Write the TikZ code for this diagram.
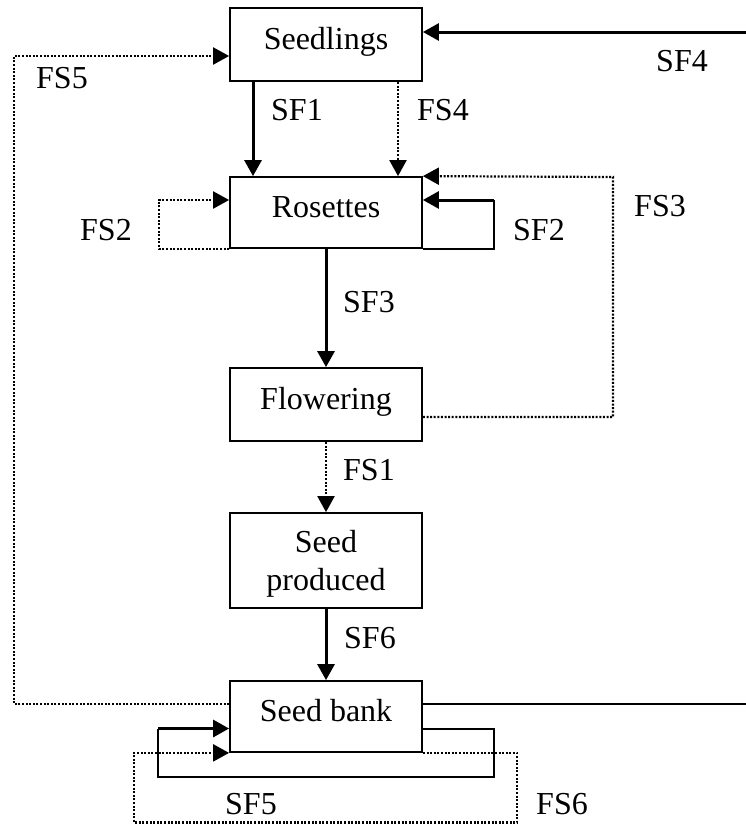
\documentclass[tikz,border=0pt]{standalone}
\usepackage{fontspec}
\setmainfont{Liberation Serif}
\usetikzlibrary{arrows.meta}
\begin{document}
\begin{tikzpicture}[x=1pt,y=-1pt,
 box/.style={draw,line width=1.8pt,minimum width=192pt,inner sep=2pt,font=\fontsize{32}{38}\selectfont,text height=24pt,text depth=15pt},
 lab/.style={inner sep=0pt,font=\fontsize{32}{38}\selectfont},
 tip/.style={-{Triangle[length=16pt,width=17pt]}},
 solidarrow/.style={line width=3pt,tip},
 solidline/.style={line width=2pt},
 dotline/.style={line width=2.2pt,dash pattern=on 2pt off 1.6pt},
 dotarrow/.style={dotline,tip},
]
\useasboundingbox (0,0) rectangle (745,825);
% boxes
\node[box,minimum height=73pt] (seed) at (326,44.5) {Seedlings};
\node[box,minimum height=71pt] (ros) at (326,212.5) {Rosettes};
\node[box,minimum height=73pt] (flow) at (326,404.5) {Flowering};
\node[box,minimum height=95pt,align=center,text height=66pt,text depth=7pt] (prod) at (326,560.5) {Seed\\produced};
\node[box,minimum height=71pt] (bank) at (326,716.5) {Seed bank};
% bend points
\coordinate (sf4c) at (748,32);
\coordinate (fs5c) at (14,56);
\coordinate (fs2c) at (159,200);
\coordinate (sf2c) at (494,200);
\coordinate (fs3c) at (613,177);
\coordinate (sf5r) at (494,777);
\coordinate (sf5l) at (158,777);
\coordinate (sf5t) at (158,728.5);
\coordinate (fs6r) at (517,822.5);
\coordinate (fs6l) at (134,822.5);
% vertical flows
\draw[solidarrow] ([xshift=-73pt]seed.south) -- ([xshift=-73pt]ros.north);
\draw[dotarrow] ([xshift=72pt]seed.south) -- ([xshift=72pt]ros.north);
\draw[solidarrow] (ros.south) -- (flow.north);
\draw[dotarrow] (flow.south) -- (prod.north);
\draw[solidarrow] (prod.south) -- (bank.north);
% SF4
\draw[solidline] ([yshift=12.5pt]bank.east) -| (sf4c);
\draw[solidarrow] (sf4c) -- (seed.east |- sf4c);
% FS5
\draw[dotarrow] ([yshift=12.5pt]bank.west) -| (fs5c) -- (seed.west |- fs5c);
% FS2
\draw[dotarrow] (ros.south west) -| (fs2c) -- (ros.west |- fs2c);
% SF2
\draw[solidline] (ros.south east) -| (sf2c);
\draw[solidarrow] (sf2c) -- (ros.east |- sf2c);
% FS3
\draw[dotarrow] ([yshift=-12.5pt]flow.east) -| (fs3c) -- (ros.north east);
% SF5
\draw[solidline] ([yshift=-12pt]bank.east) -| (sf5r) -- (sf5l) -- (sf5t);
\draw[solidarrow] (sf5t) -- (bank.west |- sf5t);
% FS6
\draw[dotarrow] (bank.south east) -| (fs6r) -- (fs6l) |- (bank.south west);
% labels
\node[lab] (lSF4) at (682,61) {SF4};
\node[lab] (lFS5) at (62,78) {FS5};
\node[lab] (lSF1) at (297,110) {SF1};
\node[lab] (lFS4) at (443,110) {FS4};
\node[lab] (lFS2) at (106,230) {FS2};
\node[lab] (lSF2) at (539,230) {SF2};
\node[lab] (lFS3) at (660,206) {FS3};
\node[lab] (lSF3) at (369,302) {SF3};
\node[lab] (lFS1) at (369,470) {FS1};
\node[lab] (lSF6) at (370,638) {SF6};
\node[lab] (lSF5) at (251,804) {SF5};
\node[lab] (lFS6) at (562,804) {FS6};
\end{tikzpicture}
\end{document}
